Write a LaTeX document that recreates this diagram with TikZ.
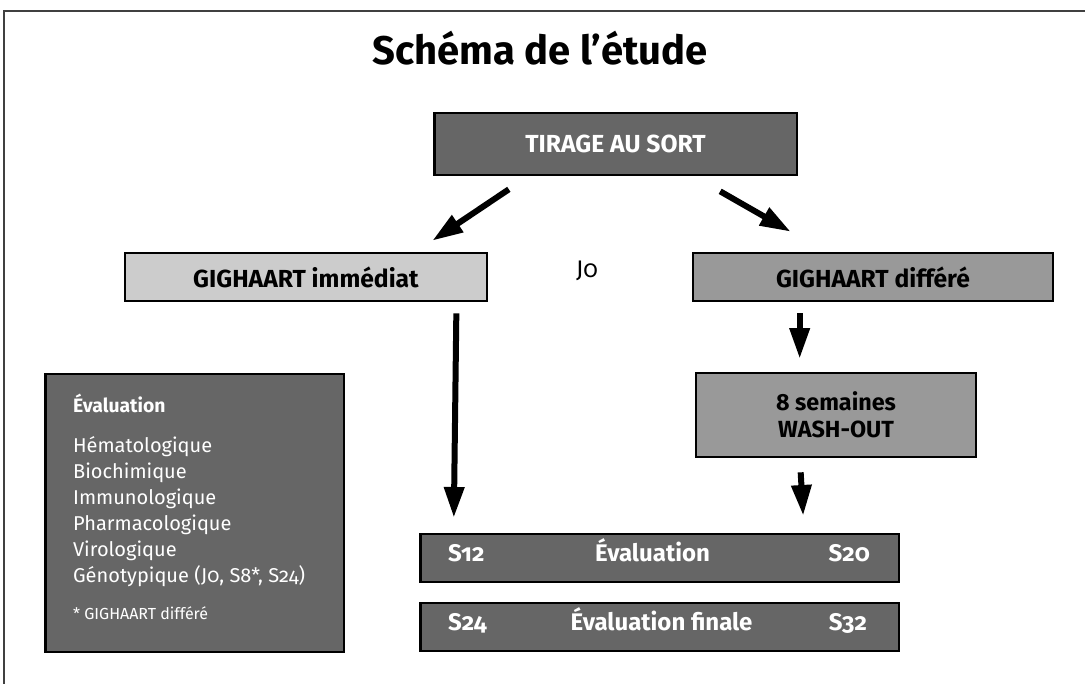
\documentclass[tikz,border=0pt]{standalone}
\usepackage{fontspec}
\setmainfont{Fira Sans}[Numbers=OldStyle]
\usetikzlibrary{arrows.meta,calc}

\definecolor{boxdark}{gray}{0.4}
\definecolor{boxmid}{gray}{0.6}
\definecolor{boxlight}{gray}{0.8}

\begin{document}
\begin{tikzpicture}[x=0.75pt,y=0.75pt,yscale=-1,xscale=1,
  box/.style={draw=black,line width=2pt,inner sep=0pt,align=center,font=\bfseries\fontsize{18.5}{21}\selectfont},
  darkbox/.style={box,fill=boxdark,text=white},
  midbox/.style={box,fill=boxmid},
  lightbox/.style={box,fill=boxlight},
  boxtext/.style={inner sep=0pt,text=white,font=\bfseries\fontsize{18}{21}\selectfont},
  evline/.style={inner sep=0pt,text=white,anchor=mid west,font=\fontsize{15}{19}\selectfont},
  fatarrow/.style={line width=4.5pt,-{Triangle[width=14.5pt,length=23pt]}}]
\useasboundingbox (0,0) rectangle (1085,684);

%frame
\draw [line width=1pt,black!75] (4,684) -- (4,11) -- (1085,11);

% Title
\node (title) at (540,48) [font=\bfseries\fontsize{30}{34}\selectfont] {Schéma de l’étude};

% Boxes
\node (tirage) at (615.5,144) [darkbox,minimum width=272pt,minimum height=46.5pt] {TIRAGE AU SORT};
\node (imm) at (306,277) [lightbox,minimum width=271.5pt,minimum height=36pt] {GIGHAART immédiat};
\node (diff) at (873,277) [midbox,minimum width=270pt,minimum height=36pt] {GIGHAART différé};
\node (wash) at (836,415) [midbox,minimum width=210pt,minimum height=63pt,font=\bfseries\fontsize{17.5}{20}\selectfont] {8 semaines\\WASH-OUT};
\node (evun) at (659.5,558) [darkbox,minimum width=359pt,minimum height=36pt] {};
\node (evdeux) at (659.5,627) [darkbox,minimum width=359pt,minimum height=36pt] {};
\node (evbox) at (194.5,513) [darkbox,minimum width=224pt,minimum height=208.5pt] {};

% Text Node
\node (jo) at (587,271) [inner sep=0pt,font=\fontsize{18}{21}\selectfont] {J0};

% Text in the timing boxes
\node (sdouze) [boxtext,anchor=mid west] at ($(evun.west)+(29,0)$) {S12};
\node (evtxt) [boxtext,anchor=mid] at ($(evun.center)+(-7,0)$) {Évaluation};
\node (svingt) [boxtext,anchor=mid east] at ($(evun.east)+(-30,0)$) {S20};
\node (svq) [boxtext,anchor=mid west] at ($(evdeux.west)+(29,0)$) {S24};
\node (evfin) [boxtext,anchor=mid] at ($(evdeux.center)+(2,0)$) {Évaluation finale};
\node (strente) [boxtext,anchor=mid east] at ($(evdeux.east)+(-33,0)$) {S32};

% Evaluation list
\node (evhead) [boxtext,anchor=mid west,font=\bfseries\fontsize{14.5}{18}\selectfont] at ($(evbox.north west)+(29,36)$) {Évaluation};
\foreach \txt [count=\i] in {Hématologique,Biochimique,Immunologique,Pharmacologique,Virologique,{Génotypique (J0, S8*, S24)}}
  \node (line\i) [evline] at ($(evbox.north west)+(29,50+26*\i)$) {\txt};
\node (evnote) [evline,font=\fontsize{12}{14}\selectfont] at ($(evbox.north west)+(29,243)$) {* GIGHAART différé};

% Arrows
\draw [fatarrow] ($(tirage.south west)+(76,13)$) -- ($(imm.north east)+(-56,-11)$);
\draw [fatarrow] ($(tirage.south east)+(-78,15)$) -- ($(diff.north west)+(99,-20)$);
\draw [fatarrow] ($(imm.south east)+(-32,11)$) -- ($(evun.north west)+(35,-15)$);
\draw [fatarrow] ($(diff.south west)+(108,11)$) -- ($(wash.north west)+(105,-13)$);
\draw [fatarrow] ($(wash.south west)+(106,14)$) -- ($(evun.north east)+(-97,-17)$);

\end{tikzpicture}
\end{document}
